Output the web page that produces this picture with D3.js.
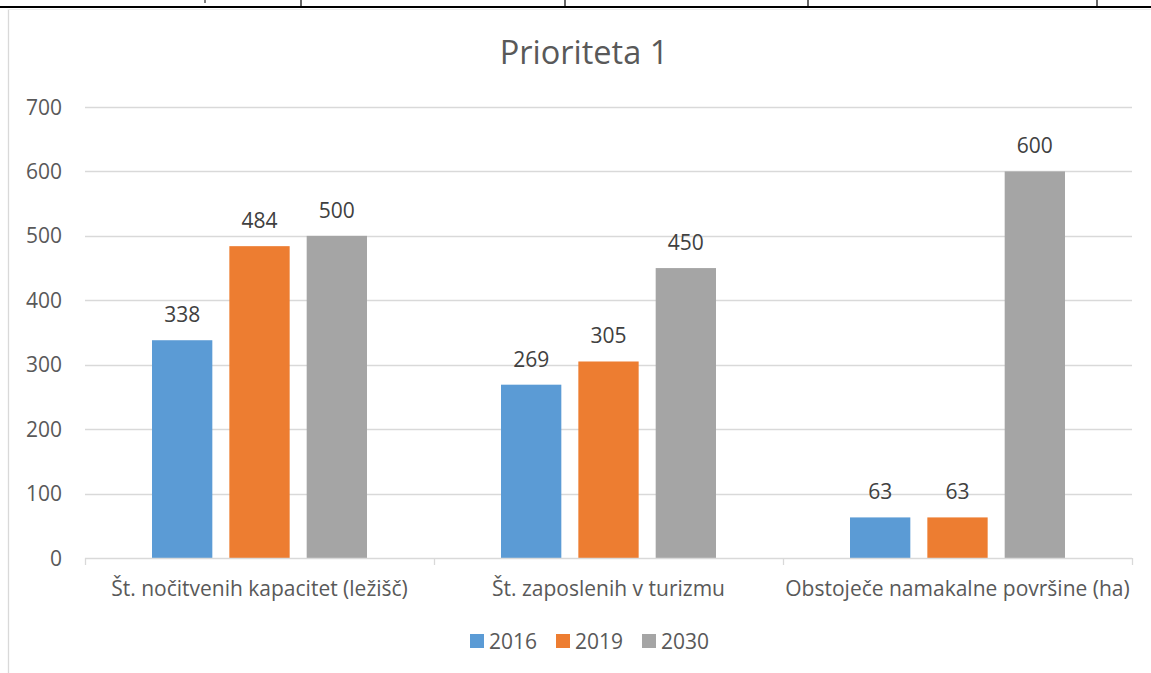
<!DOCTYPE html>
<html><head><meta charset="utf-8">
<script src="https://cdn.jsdelivr.net/npm/d3@7"></script>
<style>body{margin:0;background:#fff;}svg{display:block;font-family:"Open Sans","Noto Sans",sans-serif;}</style>
</head><body>
<svg id="c" width="1151" height="673"></svg>
<script>
const categories = ["Št. nočitvenih kapacitet (ležišč)", "Št. zaposlenih v turizmu", "Obstoječe namakalne površine (ha)"];
const seriesNames = ["2016", "2019", "2030"];
const values2016 = [338, 269, 63];
const values2019 = [484, 305, 63];
const values2030 = [500, 450, 600];
const yTicks = [0, 100, 200, 300, 400, 500, 600, 700];
const colors = ["#5B9BD5", "#ED7D31", "#A5A5A5"];
const title = "Prioriteta 1";

(function(){
const series = [values2016, values2019, values2030];
const svg = d3.select("#c");
const FS = 21;

// table fragment at top
svg.append("line").attr("x1",0).attr("x2",1151).attr("y1",7).attr("y2",7).attr("stroke","#000").attr("stroke-width",2);
[301, 565, 808, 1097].forEach(x=>svg.append("line").attr("x1",x).attr("x2",x).attr("y1",0).attr("y2",7).attr("stroke","#000").attr("stroke-width",1.2));
svg.append("line").attr("x1",205).attr("x2",205).attr("y1",0).attr("y2",3).attr("stroke","#000").attr("stroke-width",1);
// chart border
svg.append("line").attr("x1",8.5).attr("x2",8.5).attr("y1",9).attr("y2",673).attr("stroke","#D9D9D9").attr("stroke-width",1.3);
svg.append("line").attr("x1",8).attr("x2",1151).attr("y1",9.5).attr("y2",9.5).attr("stroke","#EEEEEE").attr("stroke-width",1);

const pL = 85, pR = 1132, pT = 107, pB = 558;
const y = d3.scaleLinear().domain([0,700]).range([pB, pT]);
const x0 = d3.scaleBand().domain(categories).range([pL, pR]).paddingInner(0).paddingOuter(0);
const x1 = d3.scaleBand().domain(seriesNames).range([0, 215]).paddingInner(0.22).paddingOuter(0);
const groupOffset = (x0.bandwidth() - 215) / 2;

// gridlines
svg.append("g").selectAll("line").data(yTicks.filter(d=>d>0)).join("line")
  .attr("x1",pL).attr("x2",pR).attr("y1",d=>Math.round(y(d))+0.5).attr("y2",d=>Math.round(y(d))+0.5)
  .attr("stroke","#D9D9D9").attr("stroke-width",1.3);

// y labels
svg.append("g").selectAll("text").data(yTicks).join("text")
  .attr("x",62).attr("y",d=>y(d)).attr("dy","0.36em").attr("text-anchor","end")
  .attr("font-size",FS).attr("fill","#595959").text(d=>d);

// bars
categories.forEach((c,ci)=>{
  series.forEach((s,si)=>{
    const bx = x0(c) + groupOffset + x1(seriesNames[si]);
    svg.append("rect").attr("x",bx).attr("y",y(s[ci])).attr("width",x1.bandwidth())
      .attr("height",y(0)-y(s[ci])).attr("fill",colors[si]);
    svg.append("text").attr("x",bx + x1.bandwidth()/2).attr("y",y(s[ci])-18)
      .attr("text-anchor","middle").attr("font-size",FS).attr("fill","#404040").text(s[ci]);
  });
});

// x axis
svg.append("line").attr("x1",pL).attr("x2",pR).attr("y1",558.5).attr("y2",558.5).attr("stroke","#D9D9D9").attr("stroke-width",1.3);
[pL, pL+x0.step(), pL+2*x0.step(), pR].forEach(x=>
  svg.append("line").attr("x1",x+0.5).attr("x2",x+0.5).attr("y1",558).attr("y2",565).attr("stroke","#D9D9D9").attr("stroke-width",1.3));
svg.append("g").selectAll("text").data(categories).join("text")
  .attr("x",d=>x0(d)+x0.bandwidth()/2).attr("y",596).attr("text-anchor","middle")
  .attr("font-size",FS).attr("fill","#595959").text(d=>d);

// title
svg.append("text").attr("x",584).attr("y",64).attr("text-anchor","middle").attr("font-size",32.5).attr("fill","#595959").text(title);

// legend
const legX = [470, 556, 642];
seriesNames.forEach((n,i)=>{
  svg.append("rect").attr("x",legX[i]).attr("y",634).attr("width",14).attr("height",14).attr("fill",colors[i]);
  svg.append("text").attr("x",legX[i]+19).attr("y",649).attr("font-size",FS).attr("fill","#595959").text(n);
});
})();
</script>
</body></html>
